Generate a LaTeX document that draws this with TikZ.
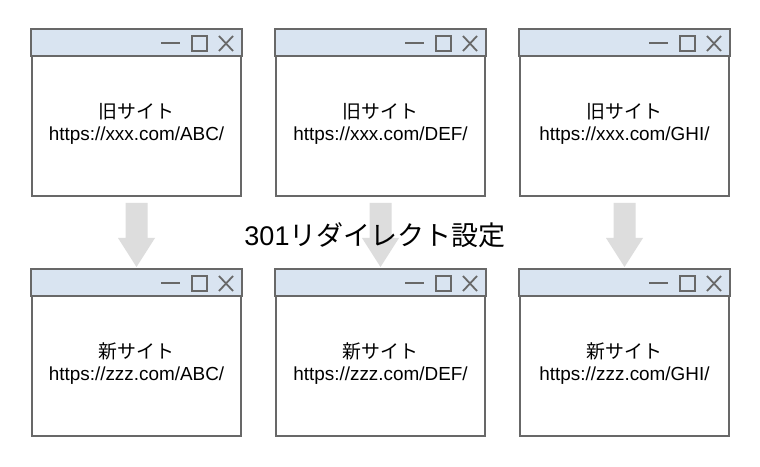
\documentclass[tikz,border=0pt]{standalone}
\usepackage{fontspec}
\setmainfont{Liberation Sans}
\newfontfamily\jp{Noto Sans CJK JP}
\usetikzlibrary{calc}
\definecolor{frameC}{HTML}{686868}
\definecolor{barC}{HTML}{D9E4F1}
\definecolor{arrC}{HTML}{DDDDDD}
\tikzset{
  winframe/.style={draw=frameC, line width=2bp, fill=white, minimum width=209bp, minimum height=166bp, inner sep=0pt},
  bar/.style={draw=frameC, line width=2bp, fill=barC},
  icon/.style={draw=frameC, line width=1.8bp},
  wtext/.style={align=center, inner sep=0pt, font=\fontsize{18.9bp}{22bp}\selectfont},
  bigarrow/.style={fill=arrC, draw=none},
}
\newcommand\winbox[5]{%
  \node[winframe] (#1) at (#2,#3) {};
  \draw[bar] (#1.north west) rectangle ($(#1.north east)+(0,27)$);
  \draw[icon] ($(#1.north east)+(-81,14)$) -- ++(19,0);
  \draw[icon] ($(#1.north east)+(-50,7)$) rectangle ++(15,15);
  \draw[icon] ($(#1.north east)+(-23,7)$) -- ++(14,15);
  \draw[icon] ($(#1.north east)+(-23,22)$) -- ++(14,-15);
  \node[wtext] (#1t) at ($(#1.north)+(0,95)$) {{\jp #4}\\#5};
}
\newcommand\redirarrow[2]{%
  \fill[bigarrow] ($(#1.south)+(-11,6)$) -- ($(#1.south)+(11,6)$) -- ($(#1.south)+(11,41)$) -- ($(#1.south)+(18.5,41)$) -- ($(#2.north)+(0,-2)$) -- ($(#1.south)+(-18.5,41)$) -- ($(#1.south)+(-11,41)$) -- cycle;
}
\begin{document}
\begin{tikzpicture}[x=1bp,y=-1bp]
\useasboundingbox[fill=white] (0,0) rectangle (760,467);
\winbox{w1}{136.5}{113}{旧サイト}{https://xxx.com/ABC/}
\winbox{w2}{380.5}{113}{旧サイト}{https://xxx.com/DEF/}
\winbox{w3}{624.5}{113}{旧サイト}{https://xxx.com/GHI/}
\winbox{v1}{136.5}{353}{新サイト}{https://zzz.com/ABC/}
\winbox{v2}{380.5}{353}{新サイト}{https://zzz.com/DEF/}
\winbox{v3}{624.5}{353}{新サイト}{https://zzz.com/GHI/}
\redirarrow{w1}{v1}
\redirarrow{w2}{v2}
\redirarrow{w3}{v3}
\node[inner sep=0pt, font=\fontsize{27bp}{31bp}\selectfont] (title) at (375,235) {301{\jp リダイレクト設定}};
\end{tikzpicture}
\end{document}
